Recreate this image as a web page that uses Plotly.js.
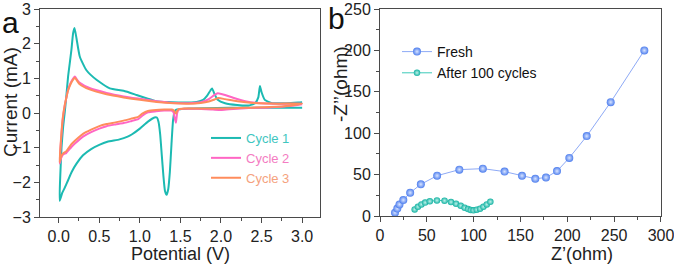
<!DOCTYPE html>
<html>
<head>
<meta charset="utf-8">
<script src="https://cdn.plot.ly/plotly-3.0.1.min.js"></script>
<style>html,body{margin:0;padding:0;background:#fff;}#chart{width:674px;height:265px;}</style>
</head>
<body>
<div id="chart"></div>
<script>
// ---- Panel a: cyclic voltammetry (Potential V, Current mA) ----
const cycle1CathV = [3.0, 2.7, 2.4, 2.1, 1.8, 1.6, 1.5, 1.45, 1.43, 1.41, 1.39, 1.37, 1.35, 1.33, 1.31, 1.29, 1.27, 1.25, 1.23, 1.21, 1.18, 1.1, 1.0, 0.9, 0.85, 0.75, 0.6, 0.5, 0.4, 0.3, 0.22, 0.16, 0.116, 0.07, 0.045, 0.012];
const cycle1CathI = [0.15, 0.15, 0.15, 0.15, 0.14, 0.13, 0.11, 0.1, 0.05, -0.2, -0.9, -1.7, -2.2, -2.36, -2.25, -1.8, -1.2, -0.6, -0.25, -0.13, -0.13, -0.25, -0.45, -0.62, -0.68, -0.76, -0.83, -0.92, -1.04, -1.22, -1.46, -1.7, -1.94, -2.18, -2.3, -2.53];
const cycle1AnoV = [0.02, 0.035, 0.055, 0.074, 0.095, 0.116, 0.14, 0.157, 0.178, 0.195, 0.22, 0.26, 0.34, 0.47, 0.63, 0.8, 0.96, 1.09, 1.2, 1.5, 1.7, 1.78, 1.83, 1.87, 1.89, 1.92, 1.96, 2.05, 2.2, 2.35, 2.42, 2.46, 2.48, 2.5, 2.54, 2.62, 2.8, 2.95, 3.0];
const cycle1AnoI = [-1.8, -1.0, -0.4, 0.0, 0.5, 1.05, 1.5, 1.82, 2.3, 2.45, 2.15, 1.63, 1.24, 0.95, 0.71, 0.64, 0.52, 0.42, 0.34, 0.3, 0.32, 0.38, 0.5, 0.65, 0.71, 0.55, 0.38, 0.28, 0.23, 0.22, 0.28, 0.45, 0.78, 0.6, 0.38, 0.29, 0.28, 0.3, 0.31];

const cycle2CathV = [3.0, 2.85, 2.6, 2.3, 2.1, 2.0, 1.9, 1.7, 1.55, 1.48, 1.46, 1.445, 1.43, 1.415, 1.39, 1.3, 1.2, 1.1, 1.03, 0.98, 0.9, 0.8, 0.7, 0.59, 0.5, 0.4, 0.3, 0.2, 0.157, 0.095, 0.054, 0.03, 0.012];
const cycle2CathI = [0.25, 0.2, 0.16, 0.14, 0.11, 0.09, 0.1, 0.12, 0.12, 0.1, 0.0, -0.28, -0.15, 0.02, 0.07, 0.07, 0.05, 0.02, -0.08, -0.18, -0.23, -0.29, -0.33, -0.38, -0.45, -0.55, -0.68, -0.88, -0.98, -1.15, -1.2, -1.3, -1.46];
const cycle2AnoV = [0.02, 0.035, 0.05, 0.074, 0.1, 0.116, 0.15, 0.18, 0.2, 0.23, 0.26, 0.38, 0.59, 0.8, 1.0, 1.21, 1.42, 1.6, 1.75, 1.85, 1.92, 1.96, 2.05, 2.15, 2.3, 2.45, 2.7, 3.0];
const cycle2AnoI = [-1.1, -0.6, -0.2, 0.2, 0.5, 0.67, 0.88, 1.0, 1.05, 0.95, 0.87, 0.72, 0.58, 0.48, 0.41, 0.34, 0.29, 0.28, 0.31, 0.4, 0.52, 0.57, 0.52, 0.44, 0.34, 0.29, 0.27, 0.27];

const cycle3CathV = [3.0, 2.85, 2.6, 2.3, 2.0, 1.7, 1.55, 1.48, 1.46, 1.445, 1.43, 1.415, 1.39, 1.3, 1.2, 1.1, 1.03, 0.98, 0.9, 0.8, 0.7, 0.59, 0.5, 0.4, 0.3, 0.2, 0.157, 0.095, 0.054, 0.03, 0.012];
const cycle3CathI = [0.27, 0.21, 0.17, 0.15, 0.13, 0.13, 0.13, 0.11, 0.06, -0.02, 0.03, 0.08, 0.1, 0.1, 0.09, 0.06, -0.02, -0.11, -0.16, -0.22, -0.27, -0.32, -0.38, -0.48, -0.6, -0.8, -0.9, -1.1, -1.17, -1.25, -1.42];
const cycle3AnoV = [0.02, 0.035, 0.05, 0.074, 0.1, 0.116, 0.15, 0.18, 0.2, 0.23, 0.26, 0.38, 0.59, 0.8, 1.0, 1.21, 1.42, 1.6, 1.75, 1.85, 1.92, 1.97, 2.05, 2.2, 2.4, 2.7, 3.0];
const cycle3AnoI = [-1.05, -0.55, -0.15, 0.22, 0.5, 0.65, 0.85, 0.97, 1.02, 0.92, 0.83, 0.68, 0.54, 0.45, 0.38, 0.32, 0.28, 0.27, 0.29, 0.33, 0.39, 0.43, 0.4, 0.34, 0.29, 0.27, 0.27];

const cycleNames = ["Cycle 1", "Cycle 2", "Cycle 3"];

// ---- Panel b: Nyquist plot (Z' ohm, -Z'' ohm) ----
const freshZre = [16.0, 18.5, 20.8, 24.9, 32.2, 43.6, 61.0, 84.7, 109.8, 133.0, 151.6, 165.8, 177.2, 189.0, 202.1, 220.7, 246.3, 282.2];
const freshZim = [4.0, 9.0, 14.0, 19.3, 28.1, 38.3, 48.7, 56.0, 57.2, 53.6, 48.6, 45.0, 46.5, 54.2, 70.2, 96.5, 137.5, 200.0];
const agedZre = [37.0, 40.5, 44.2, 48.2, 53.2, 60.8, 68.9, 75.8, 81.2, 86.2, 90.4, 94.0, 96.9, 99.8, 103.2, 106.8, 110.4, 114.0, 117.8];
const agedZim = [8.0, 11.2, 14.0, 16.2, 17.8, 18.8, 18.5, 16.9, 14.8, 12.4, 10.0, 8.4, 7.2, 6.8, 7.6, 8.8, 11.2, 14.0, 17.2];
const nyquistNames = ["Fresh", "After 100 cycles"];

const FONT = "Liberation Sans, Arial, Helvetica, sans-serif";
const cvColors = ["#1cbab2", "#ff66c4", "#ff8c5c"];
const cvTextColors = ["#3fc6bf", "#f47cc2", "#f5a27e"];

function cvTrace(cv, ci, av, ai, k) {
  return {
    x: cv.concat(av), y: ci.concat(ai),
    type: "scatter", mode: "lines",
    line: {color: cvColors[k], width: 2, shape: "spline", smoothing: 0.5},
    name: '<span style="color:' + cvTextColors[k] + '">' + cycleNames[k] + '</span>',
    xaxis: "x", yaxis: "y", legend: "legend"
  };
}

const data = [
  cvTrace(cycle1CathV, cycle1CathI, cycle1AnoV, cycle1AnoI, 0),
  cvTrace(cycle2CathV, cycle2CathI, cycle2AnoV, cycle2AnoI, 1),
  cvTrace(cycle3CathV, cycle3CathI, cycle3AnoV, cycle3AnoI, 2),
  {
    x: freshZre, y: freshZim, type: "scatter", mode: "lines+markers",
    name: nyquistNames[0], xaxis: "x2", yaxis: "y2", legend: "legend2",
    line: {color: "#8eaaf6", width: 1},
    marker: {size: 8, color: "#4f7fee", gradient: {type: "radial", color: "#d8e4ff"}, line: {width: 0}}
  },
  {
    x: agedZre, y: agedZim, type: "scatter", mode: "lines+markers",
    name: nyquistNames[1], xaxis: "x2", yaxis: "y2", legend: "legend2",
    line: {color: "#3ccab9", width: 1},
    marker: {size: 6.5, color: "#16b3a3", gradient: {type: "radial", color: "#bff2ea"}, line: {width: 0}}
  }
];

const W = 674, H = 265;
const px = v => v / W;
const py = v => 1 - v / H;

const axisCommon = {
  showline: true, mirror: true, linecolor: "#4a4a4a", linewidth: 1,
  ticks: "outside", ticklen: 5, tickwidth: 1, tickcolor: "#4a4a4a",
  showgrid: false, zeroline: false, ticklabeloverflow: "allow",
  fixedrange: true
};
const xTickFont = {family: FONT, size: 16, color: "#222"};
const yTickFont = {family: FONT, size: 16, color: "#222"};

const layout = {
  width: W, height: H,
  margin: {l: 0, r: 0, t: 0, b: 0},
  paper_bgcolor: "#fff", plot_bgcolor: "#fff",
  font: {family: FONT, color: "#222"},
  xaxis: Object.assign({}, axisCommon, {
    domain: [px(40), px(320)], range: [-0.23, 3.22], dtick: 0.5, tick0: 0, tickformat: ".1f",
    tickfont: xTickFont,
    minor: {dtick: 0.25, ticks: "outside", ticklen: 3, tickcolor: "#4a4a4a"}, anchor: "y"
  }),
  yaxis: Object.assign({}, axisCommon, {
    domain: [py(217), py(9)], range: [-3, 3], dtick: 1, tick0: 0,
    tickfont: yTickFont,
    minor: {dtick: 0.5, ticks: "outside", ticklen: 3, tickcolor: "#4a4a4a"}, anchor: "x"
  }),
  xaxis2: Object.assign({}, axisCommon, {
    domain: [px(380), px(661)], range: [0, 300.01], dtick: 50, tick0: 0,
    tickfont: xTickFont,
    minor: {dtick: 25, ticks: "outside", ticklen: 3, tickcolor: "#4a4a4a"}, anchor: "y2"
  }),
  yaxis2: Object.assign({}, axisCommon, {
    domain: [py(216), py(9)], range: [0, 250.01], dtick: 50, tick0: 0,
    tickfont: yTickFont,
    minor: {dtick: 25, ticks: "outside", ticklen: 3, tickcolor: "#4a4a4a"}, anchor: "x2"
  }),
  legend: {
    x: px(206), y: py(123), xanchor: "left", yanchor: "top",
    bgcolor: "rgba(0,0,0,0)", font: {family: FONT, size: 13},
    tracegroupgap: 0, itemwidth: 30
  },
  legend2: {
    x: px(397), y: py(36), xanchor: "left", yanchor: "top",
    bgcolor: "rgba(0,0,0,0)", font: {family: FONT, size: 14, color: "#111"},
    tracegroupgap: 0, itemwidth: 30
  },
  showlegend: true,
  annotations: [
    {text: "a", x: px(10), y: py(22.6), xref: "paper", yref: "paper", xanchor: "center", yanchor: "middle", showarrow: false, font: {family: FONT, size: 30, color: "#111"}},
    {text: "b", x: px(336), y: py(18.5), xref: "paper", yref: "paper", xanchor: "center", yanchor: "middle", showarrow: false, font: {family: FONT, size: 30, color: "#111"}},
    {text: "Potential (V)", x: px(180.5), y: py(253.5), xref: "paper", yref: "paper", xanchor: "center", yanchor: "middle", showarrow: false, font: {family: FONT, size: 18, color: "#222"}},
    {text: "Z\u2019(ohm)", x: px(582), y: py(253.5), xref: "paper", yref: "paper", xanchor: "center", yanchor: "middle", showarrow: false, font: {family: FONT, size: 18, color: "#222"}},
    {text: "Current (mA)", x: px(10), y: py(102), xref: "paper", yref: "paper", xanchor: "center", yanchor: "middle", textangle: -90, showarrow: false, font: {family: FONT, size: 19, color: "#222"}},
    {text: "-Z\u2019\u2019(ohm)", x: px(341), y: py(84), xref: "paper", yref: "paper", xanchor: "center", yanchor: "middle", textangle: -90, showarrow: false, font: {family: FONT, size: 19, color: "#222"}}
  ]
};

Plotly.newPlot("chart", data, layout, {displayModeBar: false, staticPlot: true});
</script>
</body>
</html>
